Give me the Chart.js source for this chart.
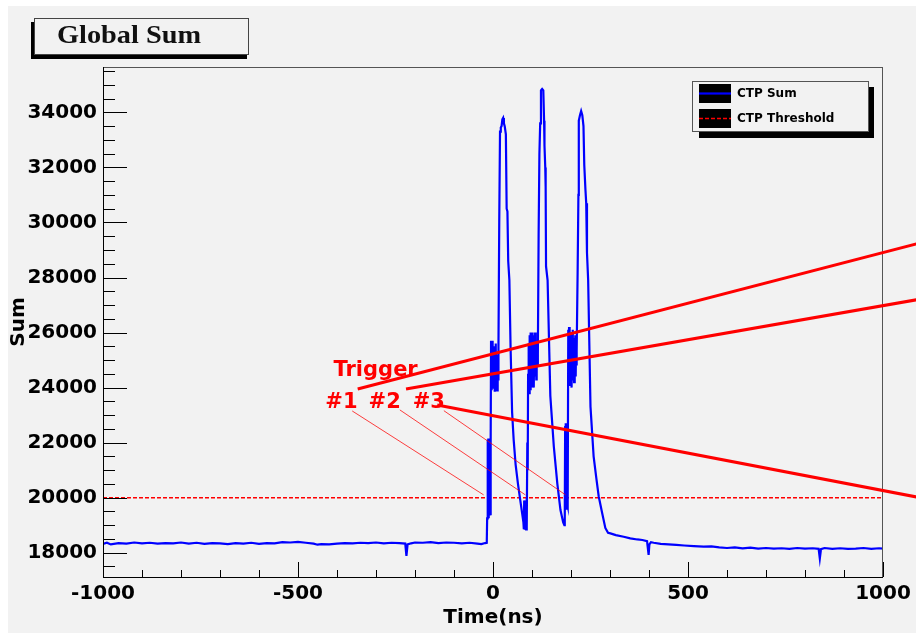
<!DOCTYPE html>
<html>
<head>
<meta charset="utf-8">
<title>Global Sum</title>
<script src="https://cdn.jsdelivr.net/npm/chart.js@4.4.0/dist/chart.umd.min.js"></script>
<style>
  html, body { margin: 0; padding: 0; background: #ffffff; }
  #wrap { width: 916px; height: 633px; }
</style>
</head>
<body>
<div id="wrap"><canvas id="myChart" width="916" height="633"></canvas></div>
<script>
// CTP sum waveform (time in ns)
var timeNs = [
  -1000, -990, -980, -960, -940, -920, -900, -880, -860, -840,
  -820, -800, -780, -760, -740, -720, -700, -680, -660, -640,
  -620, -600, -580, -560, -540, -520, -500, -480, -460, -450,
  -440, -420, -400, -380, -360, -340, -320, -300, -280, -260,
  -240, -225, -222, -219, -210, -200, -180, -160, -140, -120,
  -100, -80, -60, -40, -30, -20, -16,
  -15, -14, -13, -12, -11, -10, -9, -8, -7, -6,
  -5, -4, -3, -2, -1, 0, 1, 2, 3, 4,
  5, 6, 7, 8, 9, 10, 11, 12, 13, 14,
  16, 18, 20, 22, 24, 26, 28, 30, 33, 35,
  37, 39, 42, 45, 49, 53, 58, 64, 70, 75, 78,
  79, 80, 81, 82, 83, 84, 85, 86, 87, 88,
  89, 90, 91, 92, 93, 94, 95, 96, 97, 98,
  99, 100, 101, 102, 103, 104, 105, 106, 107, 108,
  109, 110, 111, 112, 113, 115,
  117, 119, 121, 123, 126, 129, 131, 132, 134, 135,
  136, 140, 147, 156, 165, 173, 180, 183,
  184, 185, 186, 187, 188, 189, 190, 191, 192,
  193, 194, 195, 196, 197, 198, 199, 200, 201, 202,
  203, 204, 205, 206, 207, 208, 209, 210, 211, 212,
  213, 214, 215,
  217, 219, 220, 223, 226, 229, 232, 234, 237, 239,
  241, 244, 250, 258, 265, 271, 280, 288, 295, 301,
  315, 335, 352, 370, 383, 395, 399, 401, 405, 412,
  430, 450, 470, 490, 515, 540, 560, 580, 600, 620,
  640, 660, 680, 700, 720, 740, 760, 780, 800, 820,
  835, 838, 841, 850, 870, 890, 910, 930, 950, 970,
  990, 1000
];
var ctpSum = [
  18320, 18360, 18300, 18350, 18330, 18370, 18340, 18360, 18330, 18350,
  18340, 18370, 18330, 18360, 18320, 18350, 18340, 18310, 18350, 18330,
  18360, 18320, 18350, 18340, 18380, 18370, 18390, 18360, 18330, 18290,
  18310, 18300, 18330, 18350, 18340, 18360, 18350, 18370, 18340, 18360,
  18350, 18330, 17880, 18300, 18340, 18370, 18360, 18380, 18350, 18370,
  18360, 18340, 18360, 18330, 18310, 18350, 18360,
  19250, 22100, 19300, 22150, 19250, 22100, 19350, 22050, 19400, 22000,
  25700, 23900, 25650, 24000, 25700, 24100, 25500, 24200, 25300, 23850,
  25100, 24400, 25600, 23900, 24800, 25200, 23900, 25000, 24300, 25500,
  30000, 33300, 33450, 33500, 33750, 33800, 33600, 33500, 33200, 30500,
  30400, 28600, 27900, 25500, 23100, 22100, 21200, 20500, 19900, 19400, 19100,
  18850, 19900, 18830, 19800, 18900, 19900, 18850, 20000, 18900, 22000,
  21000, 24500, 23900, 25600, 23800, 25900, 24100, 26000, 23900, 25700,
  24500, 26000, 24000, 25500, 24300, 25900, 24000, 25800, 24400, 26000,
  24600, 25700, 24300, 25400, 24800, 25200,
  29600, 32500, 33600, 34800, 34850, 34800, 33700, 32800, 32000, 31300,
  28400, 27900, 23700, 21850, 20500, 19550, 19100, 19000,
  19200, 22600, 19700, 22700, 19600, 22500, 19800, 22700, 19700,
  26100, 24200, 26200, 24500, 25900, 24100, 26000, 24400, 25700, 24000,
  25400, 24600, 26100, 24300, 25800, 24200, 25500, 24700, 25900, 24400,
  25600, 24800, 25300,
  28200, 31000, 33700, 33900, 34050, 33900, 33500, 32100, 31200, 30700,
  28900, 27900, 23300, 21500, 20700, 20050, 19430, 18900, 18720, 18700,
  18640, 18580, 18520, 18480, 18460, 18420, 17920, 18300, 18380, 18360,
  18320, 18300, 18280, 18260, 18240, 18220, 18230, 18190, 18170, 18190,
  18160, 18180, 18150, 18170, 18150, 18160, 18140, 18170, 18150, 18160,
  18140, 17790, 18130, 18170, 18140, 18160, 18140, 18150, 18170, 18140,
  18160, 18150
];
var thresholdValue = 20000;

var xTickValues = [-1000, -500, 0, 500, 1000];
var yTickValues = [18000, 20000, 22000, 24000, 26000, 28000, 30000, 32000, 34000];

// trigger annotation, in (time, sum) units
var trigLabels = ['Trigger', '#1', '#2', '#3'];
var trigLabelT = [-409, -430, -319, -206];
var trigLabelV = [24425, 23250, 23250, 23250];
var bigLineT0 = [-347, -223, -143];
var bigLineV0 = [23950, 23950, 23370];
var bigLineT1 = [1086, 1086, 1086];
var bigLineV1 = [29225, 27190, 20025];
var ptrLineT0 = [-361, -239, -126];
var ptrLineV0 = [23150, 23190, 23160];
var ptrLineT1 = [-24, 83, 186];
var ptrLineV1 = [20100, 20100, 20100];

var sumPoints = [];
for (var i = 0; i < timeNs.length; i++) {
  sumPoints.push({ x: timeNs[i], y: ctpSum[i] });
}

var sans = '"DejaVu Sans", "Liberation Sans", sans-serif';

function line(c, x0, y0, x1, y1) {
  c.beginPath();
  c.moveTo(x0, y0);
  c.lineTo(x1, y1);
  c.stroke();
}

// ROOT look: grey pad, inward ticks, title box, boxed legend, trigger notes
var rootStyle = {
  id: 'rootStyle',
  beforeDraw: function (chart) {
    var c = chart.ctx;
    c.save();
    c.fillStyle = '#f2f2f2';
    c.fillRect(0, 0, chart.width, chart.height);
    c.fillStyle = '#ffffff';
    c.fillRect(0, 0, 8, chart.height);
    c.fillRect(0, 0, chart.width, 6);
    c.restore();
  },
  afterDatasetsDraw: function (chart) {
    var c = chart.ctx, a = chart.chartArea;
    var xs = chart.scales.x, ys = chart.scales.y;
    c.save();
    // frame
    c.strokeStyle = '#555';
    c.lineWidth = 1;
    c.strokeRect(Math.round(a.left) + 0.5, Math.round(a.top) + 0.5,
      Math.round(a.right - a.left) - 1, Math.round(a.bottom - a.top));
    c.strokeStyle = '#000';
    line(c, Math.round(a.left) + 0.5, a.top, Math.round(a.left) + 0.5, a.bottom + 1);
    line(c, a.left, Math.round(a.bottom) + 0.5, a.right, Math.round(a.bottom) + 0.5);
    // ticks
    var v, p, len;
    for (v = -1000; v <= 1000; v += 100) {
      p = Math.round(xs.getPixelForValue(v)) + 0.5;
      len = (v % 500 === 0) ? 15 : 7;
      line(c, p, a.bottom, p, a.bottom - len);
    }
    for (v = 17500; v <= 35500; v += 500) {
      if (v < ys.min || v > ys.max) continue;
      p = Math.round(ys.getPixelForValue(v)) + 0.5;
      len = (v % 2000 === 0) ? 24 : 12;
      line(c, a.left, p, a.left + len, p);
    }
    // trigger notes
    var k;
    c.strokeStyle = 'rgba(255,0,0,0.75)';
    c.lineWidth = 1;
    for (k = 0; k < ptrLineT0.length; k++) {
      line(c, xs.getPixelForValue(ptrLineT0[k]), ys.getPixelForValue(ptrLineV0[k]),
        xs.getPixelForValue(ptrLineT1[k]), ys.getPixelForValue(ptrLineV1[k]));
    }
    c.strokeStyle = '#ff0000';
    c.lineWidth = 3;
    for (k = 0; k < bigLineT0.length; k++) {
      line(c, xs.getPixelForValue(bigLineT0[k]), ys.getPixelForValue(bigLineV0[k]),
        xs.getPixelForValue(bigLineT1[k]), ys.getPixelForValue(bigLineV1[k]));
    }
    c.fillStyle = '#ff0000';
    c.font = 'bold 21px ' + sans;
    c.textBaseline = 'alphabetic';
    c.textAlign = 'left';
    for (k = 0; k < trigLabels.length; k++) {
      c.fillText(trigLabels[k], xs.getPixelForValue(trigLabelT[k]), ys.getPixelForValue(trigLabelV[k]));
    }
    c.restore();
  },
  afterDraw: function (chart) {
    var c = chart.ctx;
    c.save();
    // title box
    c.fillStyle = '#000';
    c.fillRect(31, 22, 216, 37);
    c.fillStyle = '#f2f2f2';
    c.fillRect(34, 18, 215, 37);
    c.strokeStyle = '#444';
    c.lineWidth = 1;
    c.strokeRect(34.5, 18.5, 214, 36);
    c.fillStyle = '#111';
    c.font = 'bold 25px "Liberation Serif", "Times New Roman", serif';
    c.textBaseline = 'alphabetic';
    var w = c.measureText('Global Sum').width;
    c.translate(57, 43);
    c.scale(144 / w, 1);
    c.fillText('Global Sum', 0, 0);
    c.setTransform(1, 0, 0, 1, 0, 0);
    // legend box
    c.fillStyle = '#000';
    c.fillRect(699, 87, 175, 51);
    c.fillStyle = '#f2f2f2';
    c.fillRect(692, 81, 177, 51);
    c.strokeStyle = '#555';
    c.strokeRect(692.5, 81.5, 176, 50);
    var ds = chart.data.datasets;
    var rowY = [94, 119];
    for (var k = 0; k < ds.length; k++) {
      c.fillStyle = '#000';
      c.fillRect(699, rowY[k] - 10, 32, 19);
      c.strokeStyle = ds[k].borderColor;
      c.lineWidth = ds[k].borderWidth;
      c.setLineDash(ds[k].borderDash || []);
      line(c, 699, rowY[k] - 0.5, 731, rowY[k] - 0.5);
      c.setLineDash([]);
      c.fillStyle = '#000';
      c.font = 'bold 12px ' + sans;
      c.textBaseline = 'middle';
      c.fillText(ds[k].label, 737, rowY[k]);
    }
    c.restore();
  }
};

function plainLabel(v) { return String(v); }

var ctx = document.getElementById('myChart').getContext('2d');
var chart = new Chart(ctx, {
  type: 'line',
  data: {
    datasets: [{
      label: 'CTP Sum',
      data: sumPoints,
      borderColor: '#0000ff',
      borderWidth: 2.2,
      pointRadius: 0,
      tension: 0,
      fill: false
    }, {
      label: 'CTP Threshold',
      data: [{ x: -1000, y: thresholdValue }, { x: 1000, y: thresholdValue }],
      borderColor: '#ff0000',
      borderWidth: 1.5,
      borderDash: [4, 2],
      pointRadius: 0,
      fill: false
    }]
  },
  options: {
    responsive: false,
    animation: false,
    layout: { padding: { left: 0, top: 67, right: 33, bottom: 0 } },
    plugins: {
      legend: { display: false },
      tooltip: { enabled: false }
    },
    scales: {
      x: {
        type: 'linear',
        min: -1000,
        max: 1000,
        afterBuildTicks: function (s) { s.ticks = xTickValues.map(function (v) { return { value: v }; }); },
        afterFit: function (s) { s.height = 56; },
        grid: { display: false, drawTicks: false },
        border: { display: false },
        ticks: {
          color: '#000',
          font: { family: sans, weight: 'bold', size: 20 },
          padding: 5,
          maxRotation: 0,
          autoSkip: false,
          callback: plainLabel
        },
        title: {
          display: true,
          text: 'Time(ns)',
          color: '#000',
          font: { family: sans, weight: 'bold', size: 20 },
          padding: { top: 0, bottom: 3 }
        }
      },
      y: {
        type: 'linear',
        min: 17116,
        max: 35650,
        afterBuildTicks: function (s) { s.ticks = yTickValues.map(function (v) { return { value: v }; }); },
        afterFit: function (s) { s.width = 103; },
        grid: { display: false, drawTicks: false },
        border: { display: false },
        ticks: {
          color: '#000',
          font: { family: sans, weight: 'bold', size: 20 },
          padding: 6,
          autoSkip: false,
          callback: plainLabel
        },
        title: {
          display: true,
          text: 'Sum',
          color: '#000',
          font: { family: sans, weight: 'bold', size: 20 },
          padding: { top: 7, bottom: 0 }
        }
      }
    }
  },
  plugins: [rootStyle]
});
</script>
</body>
</html>
